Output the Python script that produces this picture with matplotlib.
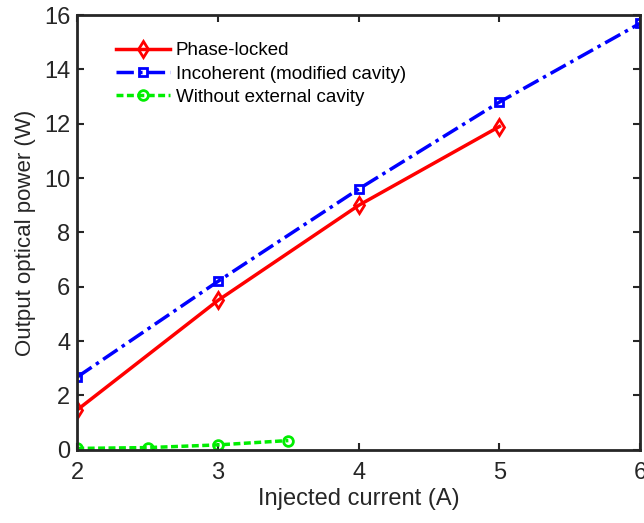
import matplotlib.pyplot as plt

plt.rcParams['font.family'] = ['Liberation Sans', 'DejaVu Sans']

# data
x_locked = [2, 3, 4, 5]
p_locked = [1.47, 5.5, 9.0, 11.9]

x_incoh = [2, 3, 4, 5, 6]
p_incoh = [2.68, 6.2, 9.6, 12.8, 15.7]

x_free = [2, 2.5, 3, 3.5]
p_free = [0.05, 0.08, 0.18, 0.34]

fig = plt.figure(figsize=(6.44, 5.23), dpi=100)
ax = fig.add_axes([0.12, 0.14, 0.874, 0.831])

ax.plot(x_locked, p_locked, color='#ff0000', lw=2.5, marker='d', ms=8,
        mfc='none', mew=2, label='Phase-locked')
ax.plot(x_incoh, p_incoh, color='#0000ff', lw=2.5, ls=(0, (5, 1.5, 1, 1.5)), marker='s', ms=6,
        mfc='none', mew=2, label='Incoherent (modified cavity)')
ax.plot(x_free, p_free, color='#00ee00', lw=2.5, ls=(0, (2, 1)), marker='o', ms=7,
        mfc='none', mew=2, label='Without external cavity')

ax.set_xlim(2, 6)
ax.set_ylim(0, 16)
ax.set_xticks([2, 3, 4, 5, 6])
ax.set_yticks(range(0, 17, 2))
ax.tick_params(direction='in', top=True, right=True, labelsize=17, length=5,
               width=1.5, color='#262626', labelcolor='#262626')
ax.tick_params(axis='x', pad=9)
ax.tick_params(axis='y', pad=5)
for s in ax.spines.values():
    s.set_linewidth(2)
    s.set_color('#262626')

ax.set_xlabel('Injected current (A)', fontsize=17, color='#262626', labelpad=3)
ax.set_ylabel('Output optical power (W)', fontsize=16, color='#262626', labelpad=6)

ax.legend(loc='upper left', frameon=False, fontsize=13.5, handlelength=2.9,
          handletextpad=0.3, labelspacing=0.33, borderaxespad=0.0,
          bbox_to_anchor=(0.055, 0.955))

fig.savefig('out.png', dpi=100)
